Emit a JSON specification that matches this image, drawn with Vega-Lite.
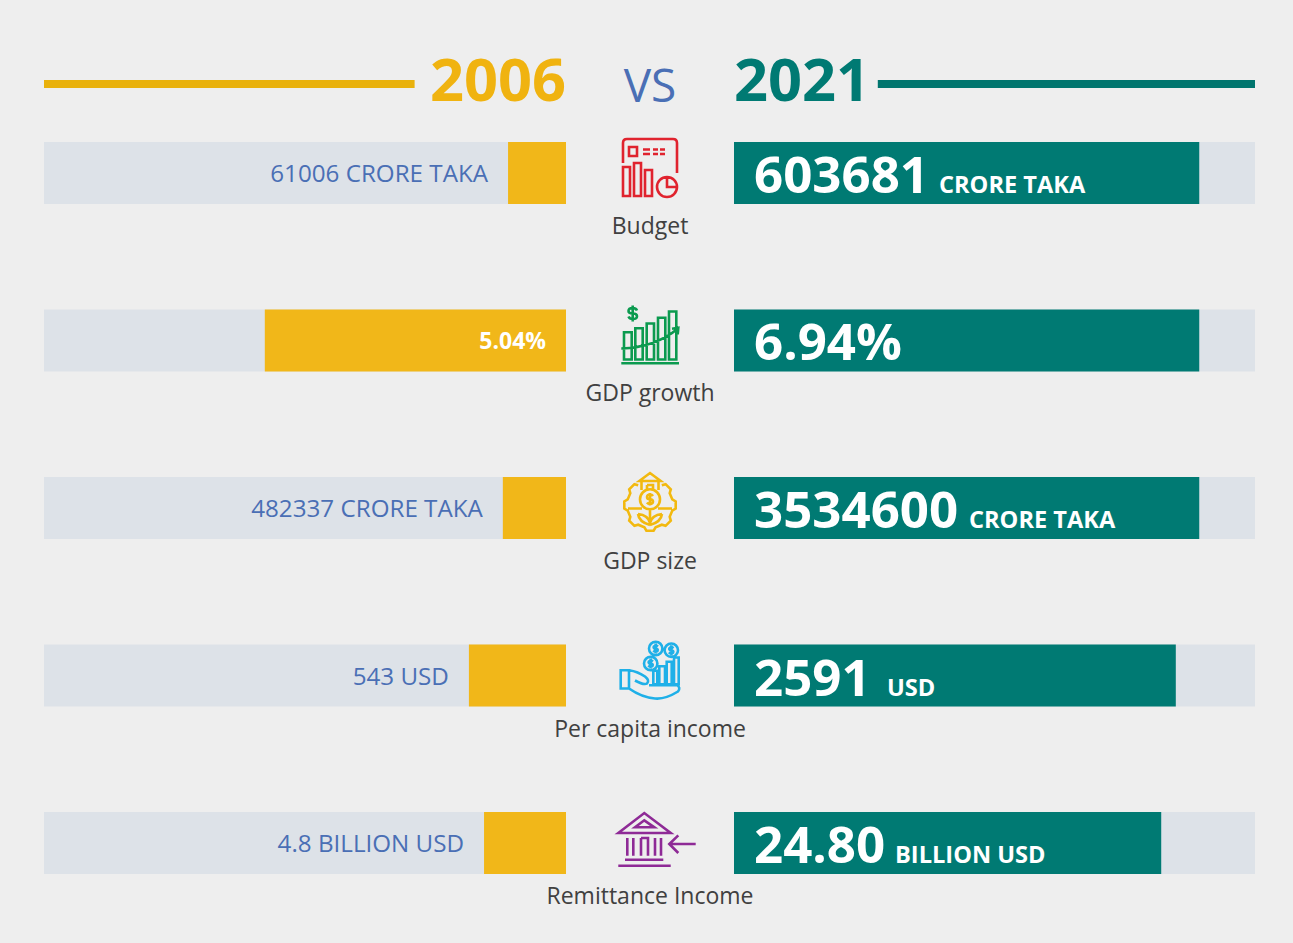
{
"$schema":"https://vega.github.io/schema/vega-lite/v6.json",
"background":"#eeeeee",
"padding":{"left":40,"top":26,"right":42,"bottom":35},
"config":{"view":{"stroke":null},"concat":{"spacing":0},"font":"Open Sans"},
"datasets":{
"rows":[
{"metric":"Budget","year":2006,"share":11.1,"track":100,"label":"61006 CRORE TAKA"},
{"metric":"GDP growth","year":2006,"share":57.7,"track":100,"label":"5.04%"},
{"metric":"GDP size","year":2006,"share":12.1,"track":100,"label":"482337 CRORE TAKA"},
{"metric":"Per capita income","year":2006,"share":18.6,"track":100,"label":"543 USD"},
{"metric":"Remittance Income","year":2006,"share":15.7,"track":100,"label":"4.8 BILLION USD"},
{"metric":"Budget","year":2021,"share":89.3,"track":100,"label":"603681","unit":"CRORE TAKA"},
{"metric":"GDP growth","year":2021,"share":89.3,"track":100,"label":"6.94%"},
{"metric":"GDP size","year":2021,"share":89.3,"track":100,"label":"3534600","unit":"CRORE TAKA"},
{"metric":"Per capita income","year":2021,"share":84.8,"track":100,"label":"2591","unit":"USD"},
{"metric":"Remittance Income","year":2021,"share":82,"track":100,"label":"24.80","unit":"BILLION USD"}
],
"metrics":[{"metric":"Budget"},{"metric":"GDP growth"},{"metric":"GDP size"},{"metric":"Per capita income"},{"metric":"Remittance Income"}]
},
"columns":3,"spacing":0,"bounds":"flush",
"concat":[
{"width":522,"height":116,"data":{"values":[{"label":"2006","lineFrom":29,"lineTo":100,"origin":0}]},
"layer":[
{"mark":{"type":"rule","color":"#e9b10c","strokeWidth":8},"encoding":{"x":{"field":"lineFrom","type":"quantitative","scale":{"domain":[0,100],"reverse":true,"nice":false},"axis":null},"x2":{"field":"lineTo"}}},
{"mark":{"type":"text","align":"right","baseline":"middle","fontSize":59.5,"fontWeight":"bold","color":"#f0b310","dy":-1},"encoding":{"x":{"field":"origin","type":"quantitative","scale":{"domain":[0,100],"reverse":true,"nice":false},"axis":null},"text":{"field":"label"}}}
]},
{"width":168,"height":116,"data":{"values":[{"label":"VS"}]},
"mark":{"type":"text","align":"center","baseline":"middle","fontSize":46,"fontWeight":400,"color":"#4a6fb5","dy":4},"encoding":{"text":{"field":"label"}}},
{"width":521,"height":116,"data":{"values":[{"label":"2021","lineFrom":27.6,"lineTo":100,"origin":0}]},
"layer":[
{"mark":{"type":"rule","color":"#00756e","strokeWidth":8},"encoding":{"x":{"field":"lineFrom","type":"quantitative","scale":{"domain":[0,100],"nice":false},"axis":null},"x2":{"field":"lineTo"}}},
{"mark":{"type":"text","align":"left","baseline":"middle","fontSize":59.5,"fontWeight":"bold","color":"#007a73","dy":-1},"encoding":{"x":{"field":"origin","type":"quantitative","scale":{"domain":[0,100],"nice":false},"axis":null},"text":{"field":"label"}}}
]},
{"width":522,"height":732,"data":{"name":"rows"},"transform":[{"filter":"datum.year===2006"},{"calculate":"0","as":"origin"}],
"encoding":{"y":{"field":"metric","type":"nominal","sort":null,"axis":null,"scale":{"type":"band","paddingInner":0.63,"paddingOuter":0}}},
"layer":[
{"mark":{"type":"bar","color":"#dde2e8"},"encoding":{"x":{"field":"track","type":"quantitative","stack":null,"axis":null,"scale":{"domain":[0,100],"reverse":true,"nice":false}}}},
{"mark":{"type":"bar","color":"#f1b719"},"encoding":{"x":{"field":"share","type":"quantitative","stack":null,"axis":null,"scale":{"domain":[0,100],"reverse":true,"nice":false}}}},
{"transform":[{"filter":"datum.metric!=='GDP growth'"}],"mark":{"type":"text","align":"right","baseline":"middle","fontSize":24.2,"color":"#4a6fb5","dx":-20,"dy":2},"encoding":{"x":{"field":"share","type":"quantitative","axis":null,"scale":{"domain":[0,100],"reverse":true,"nice":false}},"text":{"field":"label"}}},
{"transform":[{"filter":"datum.metric==='GDP growth'"}],"mark":{"type":"text","align":"right","baseline":"middle","fontSize":23,"fontWeight":"bold","color":"#ffffff","dx":-20,"dy":2},"encoding":{"x":{"field":"origin","type":"quantitative","axis":null,"scale":{"domain":[0,100],"reverse":true,"nice":false}},"text":{"field":"label"}}}
]},
{"width":168,"height":732,"data":{"name":"metrics"},
"encoding":{"y":{"field":"metric","type":"nominal","sort":null,"axis":null,"scale":{"type":"band","paddingInner":0.63,"paddingOuter":0}}},
"layer":[
{"mark":{"type":"point","size":4,"filled":false,"strokeWidth":2.6,"opacity":1},
"encoding":{
"shape":{"field":"metric","type":"nominal","legend":null,"scale":{"domain":["Budget","GDP growth","GDP size","Per capita income","Remittance Income"],"range":[
"M-27 -10V-30Q-27 -34 -23 -34H23Q27 -34 27 -30V0M-21 -26H-13V-17H-21ZM-7 -23.5H0M3 -23.5H8M10 -23.5H15M-7 -19H0M3 -19H8M10 -19H15M-27 -6H-20V23H-27ZM-16 -10H-9V23H-16ZM-5 -3H2V23H-5ZM7 14A10 10 0 1 0 27 14A10 10 0 1 0 7 14ZM17 4V14H27",
"M-26 -8.3H-18.3V19H-26ZM-14.7 -12.3H-7.3V19H-14.7ZM-3.3 -17H4V19H-3.3ZM8 -22.7H15.3V19H8ZM19 -29H26.3V19H19ZM-28.7 22.7H29M-28.7 8Q5 7 28 -12M22 -11.7L28.3 -12.7L27.7 -6M-13 -30Q-14 -32.5 -17.3 -32.5Q-21.5 -32.5 -21.5 -29.5Q-21.5 -27 -17.3 -27Q-13 -27 -13 -24.3Q-13 -21.5 -17.3 -21.5Q-20.5 -21.5 -21.5 -24M-17.3 -35V-19",
"M11.8 -22.7L15.6 -23.8L20.8 -18.6L19.7 -14.8L22.3 -8.6L25.7 -6.6L25.7 0.6L22.3 2.6L19.7 8.8L20.8 12.6L15.6 17.8L11.8 16.7L5.6 19.3L3.6 22.7L-3.6 22.7L-5.6 19.3L-11.8 16.7L-15.6 17.8L-20.8 12.6L-19.7 8.8L-22.3 2.6L-25.7 0.6L-25.7 -6.6L-22.3 -8.6L-19.7 -14.8L-20.8 -18.6L-15.6 -23.8L-11.8 -22.7M-10.7 -27L0 -35L10.7 -27ZM-8.5 -27V-18M8.5 -27V-18M-3 -23H3V-18M-3 -23V-18M-10 -8.7A10 10 0 1 0 10 -8.7A10 10 0 1 0 -10 -8.7ZM3 -12Q2 -13.5 0 -13.5Q-3 -13.5 -3 -11Q-3 -8.7 0 -8.7Q3 -8.7 3 -6.5Q3 -4 0 -4Q-2 -4 -3 -5.5M0 -15V-2.5M-22 0.5H-8M8 0.5H22M0 2V17M-12 6Q-2 7 0 15M12 6Q2 7 0 15M-12 6Q-11 14 0 17M12 6Q11 14 0 17",
"M-1 -27A6.7 6.7 0 1 0 12.4 -27A6.7 6.7 0 1 0 -1 -27ZM14.6 -25.3A6.7 6.7 0 1 0 28 -25.3A6.7 6.7 0 1 0 14.6 -25.3ZM-6 -12A6.7 6.7 0 1 0 7.4 -12A6.7 6.7 0 1 0 -6 -12ZM8 -29Q5.5 -31 3.8 -29Q3 -27 5.7 -27Q8.5 -26.5 7.5 -24.5Q5.5 -23 3.3 -25M5.7 -32V-22M23.5 -27.3Q21 -29.3 19.4 -27.3Q18.6 -25.3 21.3 -25.3Q24 -24.8 23.1 -22.8Q21 -21.3 18.9 -23.3M21.3 -30.3V-20.3M3 -14Q0.5 -16 -1.2 -14Q-2 -12 0.7 -12Q3.5 -11.5 2.5 -9.5Q0.5 -8 -1.7 -10M0.7 -17V-7M3.3 -4.7H7.3V8.7H3.3ZM9.3 -9.3H15V8.7H9.3ZM16.7 -13.7H21.7V8.7H16.7ZM24 -18H28.7V8.7H24ZM-29.3 -5.3H-21V13H-29.3ZM-21 -5.3Q-12 -4 -5 1Q0 5 -3 8Q-6 10 -15 5M-1 9.7H27Q31 12 28 16Q15 24 5 23Q-8 22 -21 13",
"M-31.7 -10L-5.7 -30L20.7 -10ZM-15 -15.7L-5.7 -22.7L4.3 -15.7ZM-22.7 -5V12.7M-16.7 -5V12.7M-9 -5V12.7M-9 -5H-2V12.7M5 -5V12.7M11 -5V12.7M-25 16.7H13.3M-31.7 22.7H20.7M45.7 1H19.3M28.3 -7.7L19.3 1L28.3 10"
]}},
"color":{"field":"metric","type":"nominal","legend":null,"scale":{"domain":["Budget","GDP growth","GDP size","Per capita income","Remittance Income"],"range":["#e0232e","#0b9a4f","#f2b90f","#1fb0e8","#8e2a96"]}}
}},
{"mark":{"type":"text","align":"center","baseline":"middle","fontSize":23,"color":"#404040","dy":54},"encoding":{"text":{"field":"metric"}}}
]},
{"width":521,"height":732,"data":{"name":"rows"},"transform":[{"filter":"datum.year===2021"},{"calculate":"0","as":"origin"}],
"encoding":{"y":{"field":"metric","type":"nominal","sort":null,"axis":null,"scale":{"type":"band","paddingInner":0.63,"paddingOuter":0}}},
"layer":[
{"mark":{"type":"bar","color":"#dde2e8"},"encoding":{"x":{"field":"track","type":"quantitative","stack":null,"axis":null,"scale":{"domain":[0,100],"nice":false}}}},
{"mark":{"type":"bar","color":"#007a73"},"encoding":{"x":{"field":"share","type":"quantitative","stack":null,"axis":null,"scale":{"domain":[0,100],"nice":false}}}},
{"mark":{"type":"text","align":"left","baseline":"alphabetic","fontSize":51,"fontWeight":"bold","color":"#ffffff","dx":20,"dy":20},"encoding":{"x":{"field":"origin","type":"quantitative","axis":null,"scale":{"domain":[0,100],"nice":false}},"text":{"field":"label"}}},
{"transform":[{"filter":"datum.metric==='Budget'"}],"mark":{"type":"text","align":"left","baseline":"alphabetic","fontSize":23.6,"fontWeight":"bold","color":"#ffffff","dx":205,"dy":20},"encoding":{"x":{"field":"origin","type":"quantitative","axis":null,"scale":{"domain":[0,100],"nice":false}},"text":{"field":"unit"}}},
{"transform":[{"filter":"datum.metric==='GDP size'"}],"mark":{"type":"text","align":"left","baseline":"alphabetic","fontSize":23.6,"fontWeight":"bold","color":"#ffffff","dx":235,"dy":20},"encoding":{"x":{"field":"origin","type":"quantitative","axis":null,"scale":{"domain":[0,100],"nice":false}},"text":{"field":"unit"}}},
{"transform":[{"filter":"datum.metric==='Per capita income'"}],"mark":{"type":"text","align":"left","baseline":"alphabetic","fontSize":23.6,"fontWeight":"bold","color":"#ffffff","dx":153,"dy":20},"encoding":{"x":{"field":"origin","type":"quantitative","axis":null,"scale":{"domain":[0,100],"nice":false}},"text":{"field":"unit"}}},
{"transform":[{"filter":"datum.metric==='Remittance Income'"}],"mark":{"type":"text","align":"left","baseline":"alphabetic","fontSize":23.6,"fontWeight":"bold","color":"#ffffff","dx":161,"dy":20},"encoding":{"x":{"field":"origin","type":"quantitative","axis":null,"scale":{"domain":[0,100],"nice":false}},"text":{"field":"unit"}}}
]}
]
}
